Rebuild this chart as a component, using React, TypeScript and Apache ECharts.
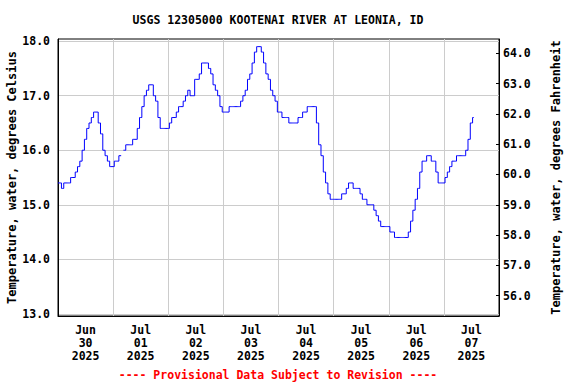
import React, { useEffect, useRef } from 'react';
import * as echarts from 'echarts';

const TITLE = 'USGS 12305000 KOOTENAI RIVER AT LEONIA, ID';
const PROVISIONAL = '---- Provisional Data Subject to Revision ----';
const LEFT_NAME = 'Temperature, water, degrees Celsius';
const RIGHT_NAME = 'Temperature, water, degrees Fahrenheit';

// one entry per day, starting 2025-06-30
const dayMonths = ['Jun', 'Jul', 'Jul', 'Jul', 'Jul', 'Jul', 'Jul', 'Jul'];
const dayNumbers = ['30', '01', '02', '03', '04', '05', '06', '07'];
const dayYears = ['2025', '2025', '2025', '2025', '2025', '2025', '2025', '2025'];

const celsiusTicks = [13, 14, 15, 16, 17, 18];
const fahrenheitTicks = [56, 57, 58, 59, 60, 61, 62, 63, 64];
const dayLabelHours = [12, 36, 60, 84, 108, 132, 156, 180];

// hourly water temperature (deg C), from 2025-06-30 00:00
const tempC: (number | null)[] = [
  15.4, 15.4, 15.3, 15.4, 15.4, 15.4, 15.5, 15.5, 15.6, 15.7, 15.8, 16.0,
  16.2, 16.4, 16.5, 16.6, 16.7, 16.7, 16.5, 16.3, 16.0, 15.9, 15.8, 15.7,
  15.7, 15.8, 15.8, 15.9, null, 16.0, 16.1, 16.1, 16.1, 16.2, 16.2, 16.4,
  16.6, 16.8, 17.0, 17.1, 17.2, 17.2, 17.0, 16.9, 16.6, 16.4, 16.4, 16.4,
  16.4, 16.5, 16.6, 16.6, 16.7, 16.8, 16.8, 16.9, 17.0, 17.1, 17.0, 17.0,
  17.3, 17.3, 17.4, 17.6, 17.6, 17.6, 17.5, 17.4, 17.2, 17.1, 17.0, 16.8,
  16.7, 16.7, 16.7, 16.8, 16.8, 16.8, 16.8, 16.8, 16.9, 17.0, 17.1, 17.3,
  17.4, 17.6, 17.8, 17.9, 17.9, 17.8, 17.6, 17.4, 17.3, 17.1, 17.0, 16.9,
  16.7, 16.7, 16.6, 16.6, 16.6, 16.5, 16.5, 16.5, 16.5, 16.6, 16.6, 16.7,
  16.7, 16.8, 16.8, 16.8, 16.8, 16.5, 16.1, 15.9, 15.6, 15.4, 15.2, 15.1,
  15.1, 15.1, 15.1, 15.1, 15.2, 15.2, 15.3, 15.4, 15.4, 15.3, 15.3, 15.3,
  15.2, 15.1, 15.1, 15.0, 15.0, 15.0, 14.9, 14.8, 14.7, 14.6, 14.6, 14.6,
  14.6, 14.5, 14.5, 14.4, 14.4, 14.4, 14.4, 14.4, 14.4, 14.5, 14.7, 14.9,
  15.1, 15.3, 15.6, 15.8, 15.8, 15.9, 15.9, 15.8, 15.8, 15.6, 15.4, 15.4,
  15.4, 15.5, 15.6, 15.7, 15.8, 15.8, 15.9, 15.9, 15.9, 15.9, 16.0, 16.2,
  16.5, 16.6,
];

const C_MIN = 12.96;
const C_MAX = 18.04;
const toF = (c: number) => c * 1.8 + 32;

const FONT = 'DejaVu Sans Mono';

export default function App() {
  const ref = useRef<HTMLDivElement>(null);
  useEffect(() => {
    if (!ref.current) return;
    const chart = echarts.init(ref.current, null, { renderer: 'svg' });
    const labelStyle = {
      fontFamily: FONT,
      fontWeight: 'bold' as const,
      fontSize: 11.5,
      color: '#000',
    };
    chart.setOption({
      animation: false,
      backgroundColor: '#fff',
      grid: {
        left: 58,
        right: 77,
        top: 39,
        bottom: 68,
        containLabel: false,
        outerBoundsMode: 'none',
        show: true,
        borderColor: '#000',
        borderWidth: 1,
        backgroundColor: 'transparent',
      },
      graphic: [
        {
          type: 'text',
          x: 278,
          y: 20,
          style: {
            text: TITLE,
            textAlign: 'center',
            textVerticalAlign: 'middle',
            font: `bold 11.5px "${FONT}"`,
            fill: '#000',
          },
        },
        {
          type: 'text',
          x: 278,
          y: 375,
          style: {
            text: PROVISIONAL,
            textAlign: 'center',
            textVerticalAlign: 'middle',
            font: `bold 11.5px "${FONT}"`,
            fill: '#ff0000',
          },
        },
      ],
      xAxis: {
        type: 'value',
        min: 0,
        max: 192,
        interval: 24,
        axisLine: { show: true, lineStyle: { color: '#000', width: 1 } },
        axisTick: { show: false },
        splitLine: { show: true, lineStyle: { color: '#cccccc', width: 1 } },
        axisLabel: {
          ...labelStyle,
          customValues: dayLabelHours,
          margin: 7,
          lineHeight: 13,
          formatter: (v: number) => {
            const d = Math.floor(v / 24);
            return `${dayMonths[d]}\n${dayNumbers[d]}\n${dayYears[d]}`;
          },
        },
      },
      yAxis: [
        {
          type: 'value',
          position: 'left',
          min: C_MIN,
          max: C_MAX,
          name: LEFT_NAME,
          nameLocation: 'middle',
          nameRotate: 90,
          nameGap: 40,
          nameMoveOverlap: false,
          nameTextStyle: { fontFamily: FONT, fontWeight: 'bold', fontSize: 12, color: '#000' },
          axisLine: { show: true, lineStyle: { color: '#000', width: 1 } },
          axisTick: { show: false, customValues: celsiusTicks },
          splitLine: { show: true, lineStyle: { color: '#cccccc', width: 1 } },
          axisLabel: {
            ...labelStyle,
            customValues: celsiusTicks,
            margin: 8,
            formatter: (v: number) => v.toFixed(1),
          },
        },
        {
          type: 'value',
          position: 'right',
          min: toF(C_MIN),
          max: toF(C_MAX),
          name: RIGHT_NAME,
          nameLocation: 'middle',
          nameRotate: 90,
          nameGap: 51,
          nameMoveOverlap: false,
          nameTextStyle: { fontFamily: FONT, fontWeight: 'bold', fontSize: 12, color: '#000' },
          axisLine: { show: true, lineStyle: { color: '#000', width: 1 } },
          axisTick: {
            show: true,
            inside: true,
            length: 3,
            customValues: fahrenheitTicks,
            lineStyle: { color: '#000' },
          },
          splitLine: { show: false },
          axisLabel: {
            ...labelStyle,
            customValues: fahrenheitTicks,
            margin: 4,
            formatter: (v: number) => v.toFixed(1),
          },
        },
      ],
      series: [
        {
          type: 'line',
          yAxisIndex: 0,
          step: 'middle',
          showSymbol: false,
          connectNulls: false,
          lineStyle: { color: '#0000ff', width: 1 },
          itemStyle: { color: '#0000ff' },
          data: tempC.map((v, i) => [i, v]),
        },
      ],
    });
    return () => chart.dispose();
  }, []);
  return (
    <div
      ref={ref}
      style={{ position: 'absolute', left: 0, top: 0, width: 576, height: 384 }}
    />
  );
}
